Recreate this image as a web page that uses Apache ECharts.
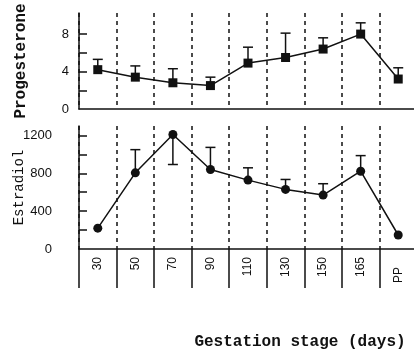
<!DOCTYPE html>
<html>
<head>
<meta charset="utf-8">
<script src="https://cdn.jsdelivr.net/npm/echarts@6/dist/echarts.min.js"></script>
<style>
  html, body { margin: 0; padding: 0; background: #fff; }
  #chart { width: 414px; height: 351px; }
</style>
</head>
<body>
<div id="chart"></div>
<script>
// gestation stages (days)
const stages = ['30', '50', '70', '90', '110', '130', '150', '165', 'PP']
// progesterone means and top of error bars
const progesterone = [4.2, 3.4, 2.8, 2.5, 4.9, 5.5, 6.4, 8.0, 3.2]
const progesteroneErr = [5.3, 4.6, 4.3, 3.4, 6.6, 8.1, 7.6, 9.2, 4.4]
// estradiol means and end of error bars (70 d bar goes downward)
const estradiol = [220, 805, 1210, 840, 728, 630, 570, 822, 148]
const estradiolErr = [null, 1050, 893, 1074, 858, 735, 690, 987, null]

const progTicks = [2, 4, 6, 8]
const progLabels = [0, 4, 8]
const estrTicks = [200, 400, 600, 800, 1000, 1200]
const estrLabels = [0, 400, 800, 1200]

const ink = '#111'
const chart = echarts.init(document.getElementById('chart'))

// error bar: vertical line from mean to end, with a cap at the end
function errBar(means, ends) {
  return function (params, api) {
    const i = params.dataIndex
    if (ends[i] == null) return null
    const p0 = api.coord([i, means[i]])
    const p1 = api.coord([i, ends[i]])
    const style = { stroke: ink, lineWidth: 1.5 }
    return {
      type: 'group',
      children: [
        { type: 'line', shape: { x1: p0[0], y1: p0[1], x2: p1[0], y2: p1[1] }, style },
        { type: 'line', shape: { x1: p1[0] - 5, y1: p1[1], x2: p1[0] + 5, y2: p1[1] }, style }
      ]
    }
  }
}

const dashed = { show: true, interval: 0, lineStyle: { color: ink, type: [4, 4], width: 1.5 } }
const yLabel = { fontFamily: 'Liberation Sans', fontSize: 13, color: ink, formatter: v => String(v) }

chart.setOption({
  backgroundColor: '#fff',
  animation: false,
  grid: [
    { left: 79, top: 13, width: 338, height: 96, outerBoundsMode: 'none' },
    { left: 79, top: 126, width: 338, height: 123, outerBoundsMode: 'none' }
  ],
  xAxis: [
    {
      gridIndex: 0, type: 'category', data: stages,
      axisLine: { lineStyle: { color: ink, width: 1.5 } },
      axisTick: { show: false }, axisLabel: { show: false },
      splitLine: dashed
    },
    {
      gridIndex: 1, type: 'category',
      data: stages.map(s => s === 'PP' ? { value: s, textStyle: { padding: [0, 10, 0, 0] } } : s),
      name: 'Gestation stage (days)', nameLocation: 'middle', nameGap: 85,
      nameTextStyle: { fontFamily: 'Liberation Mono', fontWeight: 'bold', fontSize: 16, color: ink, padding: [0, 0, 0, 104] },
      axisLine: { show: true, lineStyle: { color: ink, width: 1.5 } },
      axisTick: { show: true, interval: 0, inside: false, length: 39, lineStyle: { color: ink, width: 1.5 } },
      axisLabel: { interval: 0, rotate: 90, margin: 8, fontFamily: 'Liberation Sans', fontSize: 12, color: ink },
      splitLine: dashed
    }
  ],
  yAxis: [
    {
      gridIndex: 0, type: 'value', min: 0, max: 10.25,
      name: 'Progesterone', nameLocation: 'middle', nameGap: 50, nameRotate: 90, nameMoveOverlap: false,
      nameTextStyle: { fontFamily: 'Liberation Mono', fontWeight: 'bold', fontSize: 16, color: ink },
      axisLine: { show: true, lineStyle: { color: ink, width: 1.5 } },
      axisTick: { show: true, inside: true, length: 8, customValues: progTicks, lineStyle: { color: ink, width: 1.5 } },
      axisLabel: Object.assign({ margin: 10, customValues: progLabels }, yLabel),
      splitLine: { show: false }
    },
    {
      gridIndex: 1, type: 'value', min: 0, max: 1300,
      name: 'Estradiol', nameLocation: 'middle', nameGap: 53, nameRotate: 90, nameMoveOverlap: false,
      nameTextStyle: { fontFamily: 'Liberation Mono', fontSize: 14, color: ink },
      axisLine: { show: true, lineStyle: { color: ink, width: 1.5 } },
      axisTick: { show: true, inside: true, length: 8, customValues: estrTicks, lineStyle: { color: ink, width: 1.5 } },
      axisLabel: Object.assign({ margin: 27, customValues: estrLabels }, yLabel),
      splitLine: { show: false }
    }
  ],
  series: [
    {
      type: 'custom', xAxisIndex: 0, yAxisIndex: 0,
      data: progesteroneErr, renderItem: errBar(progesterone, progesteroneErr), z: 1
    },
    {
      type: 'line', xAxisIndex: 0, yAxisIndex: 0, data: progesterone,
      symbol: 'rect', symbolSize: 9, itemStyle: { color: ink },
      lineStyle: { color: ink, width: 1.5 }, z: 3
    },
    {
      type: 'custom', xAxisIndex: 1, yAxisIndex: 1,
      data: estradiolErr.map(v => v == null ? 0 : v), renderItem: errBar(estradiol, estradiolErr), z: 1
    },
    {
      type: 'line', xAxisIndex: 1, yAxisIndex: 1, data: estradiol,
      symbol: 'circle', symbolSize: 9, itemStyle: { color: ink },
      lineStyle: { color: ink, width: 1.5 }, z: 3
    }
  ]
})
</script>
</body>
</html>
